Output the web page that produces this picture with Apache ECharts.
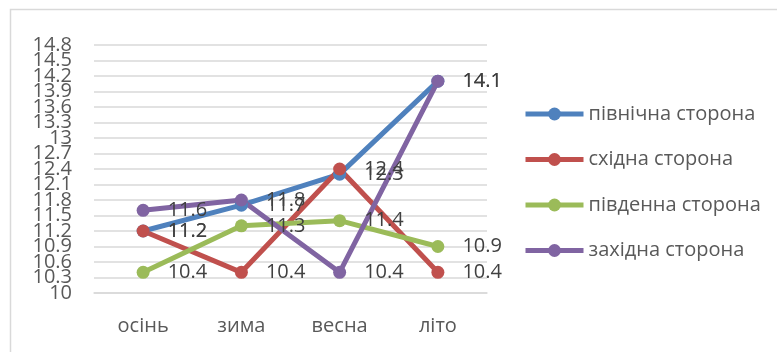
<!DOCTYPE html>
<html>
<head>
<meta charset="utf-8">
<script src="https://cdn.jsdelivr.net/npm/echarts@6/dist/echarts.min.js"></script>
<style>
  html, body { margin: 0; padding: 0; background: #fff; }
  #chart { width: 777px; height: 352px; }
</style>
</head>
<body>
<div id="chart"></div>
<script>
// Seasons along the x axis
const seasons = ['осінь', 'зима', 'весна', 'літо'];

// Values for each side of the building
const northSide = [11.2, 11.7, 12.3, 14.1];
const eastSide = [11.2, 10.4, 12.4, 10.4];
const southSide = [10.4, 11.3, 11.4, 10.9];
const westSide = [11.6, 11.8, 10.4, 14.1];

const seriesNames = ['північна сторона', 'східна сторона', 'південна сторона', 'західна сторона'];
const seriesColors = ['#4F81BD', '#C0504D', '#9BBB59', '#8064A2'];

// Value axis range
const yMin = 10;
const yMax = 14.8;
const yStep = 0.3;

const FONT = 'Open Sans';
const FS = 20;

const chart = echarts.init(document.getElementById('chart'), null, { renderer: 'canvas' });

function makeSeries(name, data, color) {
  return {
    name: name,
    type: 'line',
    data: data,
    yAxisIndex: 0,
    symbol: 'circle',
    symbolSize: 13,
    lineStyle: { width: 5, color: color },
    itemStyle: { color: color },
    label: {
      show: true,
      position: 'right',
      distance: 18,
      color: '#404040',
      fontFamily: FONT,
      fontSize: FS,
      formatter: p => p.value
    },
    emphasis: { disabled: true },
    animation: false
  };
}

const yLabelStyle = {
  color: '#595959',
  fontFamily: FONT,
  fontSize: FS,
  lineHeight: 14,
  margin: 22,
  hideOverlap: false,
  formatter: v => String(+v.toFixed(1))
};

chart.setOption({
  animation: false,
  graphic: [{
    type: 'rect',
    left: 8, top: 7,
    shape: { width: 900, height: 500 },
    style: { fill: 'none', stroke: '#d9d9d9', lineWidth: 1.5 },
    silent: true,
    z: -10
  }],
  grid: { left: 94, right: 290, top: 45, bottom: 59 },
  legend: {
    orient: 'vertical',
    left: 523,
    top: 104,
    padding: 0,
    itemWidth: 58,
    itemHeight: 16,
    itemGap: 25.5,
    data: seriesNames,
    lineStyle: { width: 5 },
    textStyle: { color: '#595959', fontFamily: FONT, fontSize: FS, lineHeight: 20 }
  },
  xAxis: {
    type: 'category',
    data: seasons,
    boundaryGap: true,
    axisLine: { show: true, lineStyle: { color: '#d9d9d9', width: 1.5 } },
    axisTick: { show: false },
    axisLabel: { color: '#595959', fontFamily: FONT, fontSize: FS, margin: 23 }
  },
  yAxis: [
    {
      // inner tick labels and gridlines
      type: 'value',
      position: 'left',
      min: yMin,
      max: yMax,
      interval: yStep,
      axisLine: { show: false },
      axisTick: { show: false },
      splitLine: { lineStyle: { color: '#d9d9d9', width: 1.5 } },
      axisLabel: Object.assign({}, yLabelStyle, { showMinLabel: false, showMaxLabel: false })
    },
    {
      // end labels of the same scale
      type: 'value',
      position: 'left',
      offset: 0,
      min: yMin,
      max: yMax,
      interval: yStep,
      axisLine: { show: false },
      axisTick: { show: false },
      splitLine: { show: false },
      axisLabel: Object.assign({}, yLabelStyle, { customValues: [yMin, yMax], showMinLabel: true, showMaxLabel: true })
    }
  ],
  series: [
    makeSeries(seriesNames[0], northSide, seriesColors[0]),
    makeSeries(seriesNames[1], eastSide, seriesColors[1]),
    makeSeries(seriesNames[2], southSide, seriesColors[2]),
    makeSeries(seriesNames[3], westSide, seriesColors[3])
  ]
});
</script>
</body>
</html>
